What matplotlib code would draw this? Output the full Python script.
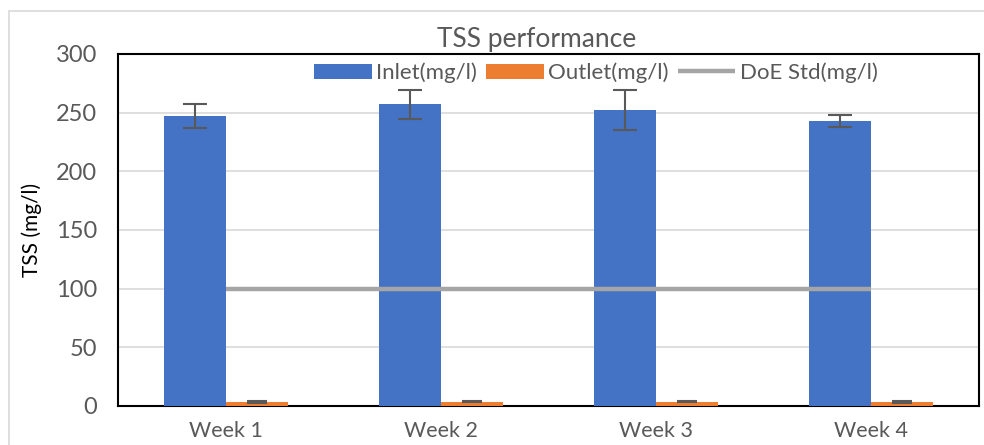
import matplotlib.pyplot as plt
import numpy as np
from matplotlib.patches import Rectangle

weeks = ["Week 1", "Week 2", "Week 3", "Week 4"]
inlet = [247, 257, 252, 243]
inlet_err = [10, 12, 17, 5]
outlet = [3.4, 3.5, 3.8, 3.4]
outlet_err = [0.6, 0.5, 0.5, 0.6]
doe_std = [100, 100, 100, 100]

blue = "#4472C4"
orange = "#ED7D31"
gray = "#A5A5A5"
txt = "#595959"

plt.rcParams['font.family'] = ['Lato', 'DejaVu Sans']

fig = plt.figure(figsize=(9.84, 4.45), dpi=100)
fig.patches.append(Rectangle((9 / 984, -0.5), 1.2, 1.5 - 11 / 445, transform=fig.transFigure,
                             fill=False, edgecolor="#D9D9D9", linewidth=1.2))
ax = fig.add_axes([118 / 984, 39 / 445, 861 / 984, 352 / 445])

x = np.arange(len(weeks))
w = 0.288
b1 = ax.bar(x - w / 2, inlet, w, color=blue, label="Inlet(mg/l)", zorder=3,
            yerr=inlet_err, error_kw=dict(ecolor=txt, elinewidth=1.5, capsize=8.5, capthick=1.5, zorder=4))
b2 = ax.bar(x + w / 2, outlet, w, color=orange, label="Outlet(mg/l)", zorder=3,
            yerr=outlet_err, error_kw=dict(ecolor=txt, elinewidth=1.5, capsize=7, capthick=1.5, zorder=4))
l1, = ax.plot(x, doe_std, color=gray, linewidth=3.2, label="DoE Std(mg/l)", zorder=5, solid_capstyle="butt")

ax.set_xlim(-0.5, 3.5)
ax.set_ylim(0, 300)
ax.set_yticks(range(0, 301, 50))
ax.yaxis.grid(True, color="#D9D9D9", linewidth=1.2, zorder=0)
ax.set_axisbelow(True)
ax.set_xticks(x)
ax.set_xticklabels(weeks)
ax.tick_params(axis="y", length=0, pad=15, labelsize=17, labelcolor=txt)
ax.tick_params(axis="x", length=0, pad=11, labelsize=15.5, labelcolor=txt)
for s in ax.spines.values():
    s.set_color("black")
    s.set_linewidth(1.5)

ax.set_ylabel("TSS (mg/l)", fontsize=15, color="black", labelpad=10)
fig.text(537 / 984, 1 - 40 / 445, "TSS performance", ha="center", va="center",
         fontsize=19, color=txt)

ax.legend([b1, b2, l1], ["Inlet(mg/l)", "Outlet(mg/l)", "DoE Std(mg/l)"],
          loc="upper center", bbox_to_anchor=(0.555, 1.02), ncol=3, frameon=False,
          fontsize=16, labelcolor=txt, handlelength=2.6, handletextpad=0.2,
          columnspacing=0.4, borderaxespad=0.3)

fig.savefig("out.png", dpi=100)
